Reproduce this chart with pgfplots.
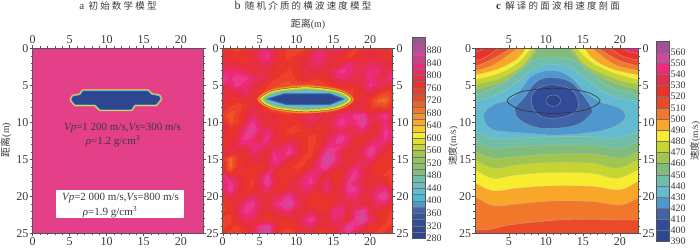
\documentclass[border=0pt]{standalone}
\usepackage{fontspec}
\setmainfont{Liberation Serif}
\newfontfamily\cjk[LetterSpace=23]{Noto Sans CJK SC}
\newfontfamily\cjkn{Noto Sans CJK SC}
\usepackage{pgfplots}
\pgfplotsset{compat=1.18}
\definecolor{ink}{HTML}{3A3A3A}
\definecolor{tk}{HTML}{555555}
\definecolor{c390}{HTML}{2E4690}\definecolor{c400}{HTML}{334C9A}\definecolor{c410}{HTML}{3F65A8}
\definecolor{c420}{HTML}{4E97CF}\definecolor{c430}{HTML}{62BBD0}\definecolor{c440}{HTML}{6FBFA8}
\definecolor{c450}{HTML}{80BC7C}\definecolor{c460}{HTML}{A0C64F}\definecolor{c470}{HTML}{C6D52F}
\definecolor{c480}{HTML}{F8EC2E}\definecolor{c490}{HTML}{F9A728}\definecolor{c500}{HTML}{F1772B}
\definecolor{c510}{HTML}{EB4A2A}\definecolor{c520}{HTML}{E9322A}\definecolor{c530}{HTML}{E52F4A}
\definecolor{c540}{HTML}{EE2A7B}\definecolor{c550}{HTML}{D0479B}\definecolor{c560}{HTML}{A54F99}
\definecolor{mag}{HTML}{E4408A}
\pgfplotsset{
  fr/.style={scale only axis, axis on top, y dir=reverse, ymin=0, ymax=25,
    xtick={0,5,...,20}, ytick={0,5,...,25}, minor tick num=4, tick pos=both,
    tick align=outside, major tick length=3pt, minor tick length=2pt,
    tick style={draw=tk, line width=.4pt}, axis line style={draw=tk, line width=.5pt},
    /pgf/number format/assume math mode=true,
    tick label style={font=\fontsize{12}{12}\selectfont, text=ink, inner sep=1pt},
    anchor=south west},
  low/.style={xticklabel pos=lower},
  cbar/.style={scale only axis, anchor=south west, xmin=0, xmax=1, xtick=\empty,
    tick style={draw=none}, ytick pos=right, yticklabel pos=right,
    axis line style={draw=tk, line width=.5pt}, axis on top,
    /pgf/number format/assume math mode=true,
    tick label style={font=\fontsize{10}{10}\selectfont, text=ink, inner sep=1pt}},
}
\newcommand\cb[3]{\addplot[fill=#3, draw=black!55, line width=.25pt] coordinates {(0,#1)(1,#1)(1,#2)(0,#2)} -- cycle;}
\newcommand\lowband[2]{\addplot[fill=#1, draw=black!25, line width=.2pt, smooth, tension=.6] coordinates {#2} -- (axis cs:25,32) -- (axis cs:-2,32) -- cycle;}
\newcommand\blob[2]{\addplot[fill=#1, draw=black!30, line width=.2pt, smooth cycle, tension=.7] coordinates {#2};}
\begin{document}
\begin{tikzpicture}
\path[use as bounding box] (0pt,0pt) rectangle (700pt,249pt);
\begin{scope}[x=1pt,y=1pt]
\node[font=\fontsize{9.5}{10}\selectfont\cjk, text=ink] at (118,243) {{\fontsize{11}{11}\rmfamily a} 初始数学模型};
\node[font=\fontsize{9.5}{10}\selectfont\cjk, text=ink] at (303,243) {{\fontsize{12}{12}\rmfamily b} 随机介质的横波速度模型};
\node[font=\fontsize{9.5}{10}\selectfont\cjk, text=ink] at (558,243) {{\fontsize{11}{11}\rmfamily\bfseries c} 解译的面波相速度剖面};
\node[font=\fontsize{10}{10}\selectfont, text=ink, rotate=90] at (6,109) {{\cjkn 距离}(m)};
\node[font=\fontsize{10}{10}\selectfont, text=ink] at (308,225) {{\cjkn 距离}(m)};
\node[font=\fontsize{9.5}{10}\selectfont, text=ink, rotate=90] at (453,103) {{\cjkn 速度}(m/s)};
\node[font=\fontsize{9.5}{10}\selectfont, text=ink, rotate=90] at (695,108) {{\cjkn 速度}(m/s)};
\end{scope}
% ---------- panel a
\begin{axis}[fr, low, at={(32.5pt,15.7pt)}, width=170.5pt, height=185pt, xmin=0, xmax=23, yticklabel pos=left]
\addplot[fill=mag, draw=none] coordinates {(0,0)(23,0)(23,25)(0,25)} -- cycle;
\addplot[fill=c490, draw=c490, line width=2.6pt, line join=round] coordinates {(6.77,5.72)(15.6,5.72)(16.05,6.2)(17.1,6.4)(17.35,6.85)(16.7,7.66)(13.8,7.66)(13.36,8.33)(9.1,8.33)(8.43,7.66)(5.74,7.66)(5.16,6.98)(5.43,6.44)(6.41,6.26)} -- cycle;
\addplot[fill=c480, draw=c480, line width=1.8pt, line join=round] coordinates {(6.77,5.72)(15.6,5.72)(16.05,6.2)(17.1,6.4)(17.35,6.85)(16.7,7.66)(13.8,7.66)(13.36,8.33)(9.1,8.33)(8.43,7.66)(5.74,7.66)(5.16,6.98)(5.43,6.44)(6.41,6.26)} -- cycle;
\addplot[fill=c390, draw=c430, line width=.8pt, line join=round] coordinates {(6.77,5.72)(15.6,5.72)(16.05,6.2)(17.1,6.4)(17.35,6.85)(16.7,7.66)(13.8,7.66)(13.36,8.33)(9.1,8.33)(8.43,7.66)(5.74,7.66)(5.16,6.98)(5.43,6.44)(6.41,6.26)} -- cycle;
\end{axis}
\begin{axis}[fr, at={(32.5pt,15.7pt)}, width=170.5pt, height=185pt, xmin=0, xmax=23, xticklabel pos=upper, yticklabels={}]
\end{axis}
\begin{scope}[x=1pt,y=1pt]
\fill[white] (56,31) rectangle (184,59);
\node[font=\fontsize{11}{12}\selectfont, text=ink] at (122.5,121) {\textit{Vp}=1 200 m/s,\textit{Vs}=300 m/s};
\node[font=\fontsize{11}{12}\selectfont, text=ink] at (113,108) {\textit{ρ}=1.2 g/cm\textsuperscript{3}};
\node[font=\fontsize{11}{12}\selectfont, text=ink] at (120.5,50.5) {\textit{Vp}=2 000 m/s,\textit{Vs}=800 m/s};
\node[font=\fontsize{11}{12}\selectfont, text=ink] at (110,36.5) {\textit{ρ}=1.9 g/cm\textsuperscript{3}};
\end{scope}
% ---------- panel b
\begin{axis}[fr, low, at={(222.7pt,15.7pt)}, width=169.6pt, height=185pt, xmin=0, xmax=23, yticklabel pos=left,
  colormap={bmap}{rgb255=(46,70,144) rgb255=(49,73,143) rgb255=(53,77,150) rgb255=(58,85,160) rgb255=(63,98,170) rgb255=(72,120,188) rgb255=(79,180,228) rgb255=(92,187,208) rgb255=(108,192,184) rgb255=(111,191,160) rgb255=(124,188,136) rgb255=(140,192,110) rgb255=(140,192,99) rgb255=(168,200,74) rgb255=(196,212,51) rgb255=(220,221,42) rgb255=(255,232,42) rgb255=(255,213,42) rgb255=(253,180,40) rgb255=(249,157,40) rgb255=(244,124,42) rgb255=(242,105,43) rgb255=(238,82,43) rgb255=(238,65,43) rgb255=(233,51,43) rgb255=(231,46,60) rgb255=(230,45,82) rgb255=(238,42,120) rgb255=(232,59,140) rgb255=(207,72,153) rgb255=(185,80,155) rgb255=(165,79,153) rgb255=(165,79,153)},
  colormap access=piecewise constant, point meta min=280, point meta max=920]
\addplot[surf, shader=interp, mesh/cols=24, point meta=explicit] table[row sep=\\, header=false, x expr={mod(\coordindex,24)}, y expr={floor(\coordindex/24)}, meta index=0] {
760\\750\\740\\750\\770\\790\\810\\770\\750\\740\\730\\740\\760\\790\\780\\790\\810\\760\\740\\750\\770\\760\\750\\740\\
770\\760\\750\\760\\780\\810\\830\\780\\750\\740\\750\\770\\800\\820\\790\\770\\760\\740\\750\\770\\780\\770\\760\\750\\
780\\780\\770\\760\\770\\790\\800\\770\\750\\750\\760\\770\\790\\810\\780\\770\\780\\810\\790\\780\\800\\790\\780\\770\\
800\\810\\810\\790\\770\\780\\780\\760\\750\\740\\760\\790\\770\\780\\770\\800\\830\\820\\800\\790\\820\\810\\780\\810\\
830\\820\\840\\830\\810\\800\\770\\750\\740\\730\\750\\770\\760\\750\\760\\790\\810\\800\\780\\800\\810\\790\\800\\830\\
820\\810\\830\\810\\790\\770\\750\\730\\720\\720\\720\\720\\720\\730\\740\\750\\760\\770\\760\\790\\830\\800\\780\\770\\
770\\760\\780\\810\\770\\750\\720\\700\\680\\680\\680\\680\\680\\680\\700\\720\\720\\730\\750\\760\\780\\750\\730\\750\\
800\\760\\750\\760\\770\\760\\730\\700\\680\\680\\680\\680\\680\\680\\680\\700\\710\\740\\750\\790\\750\\700\\690\\740\\
770\\740\\730\\760\\790\\770\\750\\720\\700\\680\\680\\680\\680\\680\\700\\710\\750\\770\\780\\760\\750\\750\\740\\760\\
740\\710\\740\\770\\800\\780\\770\\770\\760\\750\\770\\790\\810\\790\\770\\790\\810\\810\\830\\840\\780\\810\\840\\780\\
760\\720\\740\\790\\830\\790\\760\\770\\760\\760\\750\\780\\800\\770\\770\\800\\840\\810\\820\\860\\790\\780\\820\\770\\
780\\760\\770\\820\\850\\800\\810\\770\\750\\740\\740\\750\\760\\750\\760\\780\\800\\780\\790\\810\\770\\780\\830\\810\\
770\\760\\780\\840\\820\\780\\830\\780\\760\\750\\760\\750\\740\\750\\780\\810\\840\\810\\770\\760\\770\\790\\830\\800\\
750\\770\\790\\800\\810\\820\\790\\780\\790\\820\\780\\750\\740\\760\\800\\820\\820\\790\\760\\780\\820\\810\\790\\770\\
760\\790\\770\\760\\810\\790\\770\\820\\800\\840\\800\\750\\740\\780\\840\\830\\780\\770\\780\\810\\850\\800\\770\\750\\
740\\690\\750\\760\\780\\770\\780\\830\\810\\770\\760\\740\\750\\810\\860\\840\\790\\760\\770\\790\\810\\770\\750\\750\\
760\\700\\760\\770\\760\\750\\770\\800\\770\\750\\740\\750\\770\\820\\840\\800\\770\\780\\820\\780\\770\\750\\760\\740\\
790\\760\\760\\750\\750\\780\\830\\770\\750\\760\\760\\800\\820\\790\\770\\760\\760\\810\\840\\790\\770\\760\\740\\730\\
820\\830\\800\\760\\740\\800\\850\\790\\750\\770\\790\\820\\830\\780\\810\\760\\770\\830\\810\\780\\760\\780\\770\\720\\
800\\840\\790\\750\\750\\770\\810\\770\\760\\780\\770\\810\\790\\770\\820\\770\\780\\840\\830\\790\\780\\810\\820\\760\\
770\\790\\770\\780\\800\\770\\770\\790\\810\\830\\790\\770\\760\\750\\770\\760\\770\\810\\810\\780\\790\\830\\850\\780\\
750\\760\\780\\820\\840\\790\\770\\810\\840\\860\\810\\770\\750\\760\\750\\770\\800\\780\\790\\770\\770\\800\\800\\760\\
740\\750\\790\\830\\820\\780\\760\\780\\800\\810\\770\\770\\790\\760\\770\\820\\820\\770\\820\\850\\780\\760\\750\\740\\
750\\740\\770\\800\\790\\770\\750\\750\\760\\760\\770\\810\\840\\790\\760\\810\\790\\770\\830\\860\\800\\770\\750\\730\\
740\\750\\740\\770\\780\\830\\850\\790\\750\\750\\760\\790\\800\\770\\770\\780\\800\\840\\820\\790\\760\\750\\740\\750\\
750\\740\\730\\750\\790\\840\\860\\780\\740\\730\\750\\770\\760\\750\\750\\770\\810\\830\\790\\770\\750\\740\\750\\760\\
};
\addplot[fill=c490!70!c510, draw=none, smooth cycle] coordinates {(4.7,6.9)(6.7,5.55)(11.26,5.0)(15.82,5.55)(17.8,6.9)(15.82,8.25)(11.26,8.8)(6.7,8.25)};
\addplot[fill=c480, draw=black!70, line width=.35pt, smooth cycle] coordinates {(5.02,6.9)(6.89,5.71)(11.26,5.22)(15.63,5.71)(17.5,6.9)(15.63,8.09)(11.26,8.58)(6.89,8.09)};
\addplot[fill=c470, draw=none, smooth cycle] coordinates {(5.3,6.9)(7.1,5.82)(11.26,5.38)(15.42,5.82)(17.22,6.9)(15.42,7.98)(11.26,8.42)(7.1,7.98)};
\addplot[fill=c450, draw=none, smooth cycle] coordinates {(5.5,6.9)(7.26,5.92)(11.26,5.52)(15.26,5.92)(17.02,6.9)(15.26,7.88)(11.26,8.28)(7.26,7.88)};
\addplot[fill=c440, draw=none, smooth cycle] coordinates {(5.7,6.9)(7.38,6.02)(11.26,5.66)(15.14,6.02)(16.82,6.9)(15.14,7.78)(11.26,8.14)(7.38,7.78)};
\addplot[fill=c430, draw=none, smooth cycle] coordinates {(5.9,6.9)(7.5,6.12)(11.26,5.8)(15.02,6.12)(16.62,6.9)(15.02,7.68)(11.26,8.0)(7.5,7.68)};
\addplot[fill=c390, draw=c410, line width=1.1pt, line join=round] coordinates {(6.1,6.85)(8.4,6.15)(14.5,6.15)(16.4,6.85)(14.5,7.6)(8.65,7.6)} -- cycle;
\end{axis}
\begin{axis}[fr, at={(222.7pt,15.7pt)}, width=169.6pt, height=185pt, xmin=0, xmax=23, xticklabel pos=upper, yticklabel pos=right]
\end{axis}
\begin{axis}[cbar, at={(412pt,10.7pt)}, width=13.3pt, height=200.6pt, ymin=280, ymax=920, ytick={280,320,...,880}]
\cb{280}{300}{c390}\cb{300}{320}{c390!90!c400}\cb{320}{340}{c400}\cb{340}{360}{c400!60!c410}\cb{360}{380}{c410}\cb{380}{400}{c420}
\cb{400}{420}{c420!50!c430!80!cyan}\cb{420}{440}{c430}\cb{440}{460}{c430!40!c440}\cb{460}{480}{c440}\cb{480}{500}{c450}\cb{500}{520}{c450!60!c460}
\cb{520}{540}{c450!40!c460}\cb{540}{560}{c460}\cb{560}{580}{c470}\cb{580}{600}{c470!50!c480}\cb{600}{620}{c480}\cb{620}{640}{c480!50!c490}
\cb{640}{660}{c490}\cb{660}{680}{c490!60!c500}\cb{680}{700}{c500}\cb{700}{720}{c500!50!c510}\cb{720}{740}{c510}\cb{740}{760}{c510!50!c520}
\cb{760}{780}{c520}\cb{780}{800}{c530}\cb{800}{820}{c530!60!c540}\cb{820}{840}{c540}\cb{840}{860}{c540!50!c550}\cb{860}{880}{c550}\cb{880}{900}{c550!50!c560}\cb{900}{920}{c560}
\end{axis}
% ---------- panel c
\begin{axis}[fr, low, at={(475.3pt,15.7pt)}, width=163pt, height=185pt, xmin=0.45, xmax=22.5, xtick={5,10,15,20}, yticklabel pos=left]
\addplot[fill=c530, draw=none] coordinates {(0,0)(23,0)(23,25)(0,25)} -- cycle;
\addplot[fill=c540, draw=none] coordinates {(20.5,-1)(23,-1)(23,.6)(21,.4)} -- cycle;
\lowband{c520}{(-1,.7)(.45,.5)(1.5,.1)(2.5,-1)(10,-2)(19.5,-1)(20.8,.3)(22.5,.7)(24,.9)}
\lowband{c510}{(-1,2)(.45,1.7)(2,1.1)(3.56,0)(5,-1)(10,-2)(17,-1)(18.65,0)(20.5,1.1)(22.5,1.6)(24,1.9)}
\lowband{c500}{(-1,2.7)(.45,2.4)(2.5,1.6)(5.3,0)(7,-1)(11,-2)(15.5,-1)(17.07,0)(19.8,1.6)(22.5,2.4)(24,2.7)}
\lowband{c490}{(-1,3.3)(.45,3.06)(3,2.2)(6.2,0)(8,-1)(11,-2)(14.5,-1)(16.2,0)(19.3,2.2)(22.5,3)(24,3.3)}
\lowband{c480}{(-1,3.9)(.45,3.6)(3.5,2.8)(6,1.5)(7.3,0)(8.5,-1)(11,-2)(14,-1)(15.2,0)(16.5,1.5)(19,2.8)(22.5,3.6)(24,3.9)}
\lowband{c470}{(-1,4.6)(.45,4.28)(4,3.3)(6.5,1.8)(8,0)(9,-1)(11,-2)(13.3,-1)(14.14,0)(16,1.8)(19,3.3)(22.5,4.3)(24,4.6)}
\lowband{c460}{(-1,5.2)(.45,4.95)(4,4)(7,2.2)(8.5,0)(9.3,-1)(11,-2)(12.8,-1)(13.6,0)(15.3,2.2)(19,4)(22.5,4.95)(24,5.2)}
\lowband{c450}{(-1,5.9)(.45,5.6)(4,4.6)(7,2.7)(8.85,0)(9.6,-1)(11,-2)(12.5,-1)(13.2,0)(15.5,2.7)(19,4.6)(22.5,5.6)(24,5.9)}
\lowband{c440}{(-1,6.6)(.45,6.31)(3.78,4.97)(6.26,3.15)(8.29,1.58)(10.99,1.22)(13.69,1.58)(15.72,3.15)(18.65,5.18)(22.48,6.31)(24,6.6)}
\lowband{c430}{(-1,7.5)(.45,7.21)(3.78,6.08)(6.49,4.28)(8.51,2.7)(10.99,2.16)(13.47,2.7)(15.5,4.28)(18.65,6.31)(22.48,7.21)(24,7.5)}
\lowband{c440}{(-1,10.9)(.45,11.26)(2.88,12.16)(6.04,12.16)(10.54,11.94)(15.95,11.94)(19.55,12.16)(22.48,11.26)(24,10.9)}
\lowband{c450}{(-1,12.2)(.45,12.61)(2.88,13.51)(6.04,13.29)(10.54,13.06)(16.4,13.15)(20,13.51)(22.48,12.61)(24,12.2)}
\lowband{c460}{(-1,13.5)(.45,13.96)(2.88,14.86)(6.04,14.64)(10.99,14.28)(16.4,14.28)(20,14.86)(22.48,13.96)(24,13.5)}
\lowband{c470}{(-1,14.6)(.45,15.09)(2.88,16.22)(6.04,15.77)(10.99,15.41)(16.4,15.54)(19.55,16.22)(22.48,15.09)(24,14.6)}
\lowband{c480}{(-1,16)(.45,16.44)(2.88,17.57)(6.04,17.1)(10.99,16.76)(16.4,16.9)(19.55,17.57)(22.48,16.44)(24,16)}
\lowband{c490}{(-1,17.8)(.45,18.24)(2.88,19.28)(6.04,18.92)(10.99,18.6)(16.4,18.69)(20,19.14)(22.48,18.02)(24,17.6)}
\lowband{c500}{(-1,19.6)(.45,20.05)(2.88,21.26)(6.04,21.04)(10.99,20.63)(16.4,20.72)(20,21.17)(22.48,20.27)(24,19.8)}
\lowband{c510}{(-1,24.6)(.45,24.55)(2.43,24.46)(5.14,23.87)(10.54,23.29)(15.05,23.1)(19.55,23.2)(22.48,23.2)(24,23.2)}
\blob{c420}{(1.62,9.01)(2.43,10.81)(4.68,11.26)(7.84,11.49)(10.99,11.71)(15.05,11.49)(18.65,10.81)(20.68,9.46)(20,8.11)(17.3,7.21)(15.05,5.63)(13.24,3.83)(10.99,3.02)(8.29,3.6)(6.71,5.41)(5.14,6.89)(2.88,7.66)}
\blob{c410}{(5.81,8.33)(6.26,9.46)(8.29,10.59)(10.99,10.81)(14.14,10.36)(15.95,9.01)(16.17,8.11)(14.82,6.08)(13.24,4.5)(10.77,3.96)(8.74,4.5)(7.16,6.53)(5.95,7.88)}
\blob{c400}{(8.06,6.76)(8.74,8.78)(10.99,9.46)(13.69,8.78)(14.37,7.43)(13.47,5.63)(10.99,4.95)(8.96,5.41)}
\blob{c390}{(9.99,7.07)(10.29,6.52)(10.99,6.3)(11.69,6.52)(11.99,7.07)(11.69,7.62)(10.99,7.84)(10.29,7.62)}
\addplot[draw=black!80, line width=.6pt, smooth cycle, fill=none] coordinates {(4.74,7.1)(6.63,5.89)(11.04,5.4)(15.45,5.89)(17.34,7.1)(15.45,8.31)(11.04,8.8)(6.63,8.31)};
\end{axis}
\begin{axis}[fr, at={(475.3pt,15.7pt)}, width=163pt, height=185pt, xmin=0.45, xmax=22.5, xtick={5,10,15,20}, xticklabel pos=upper, yticklabel pos=right]
\end{axis}
\begin{axis}[cbar, at={(656.3pt,7.3pt)}, width=13pt, height=200.9pt, ymin=390, ymax=570, ytick={390,400,...,560}]
\cb{390}{400}{c390}\cb{400}{410}{c400}\cb{410}{420}{c410}\cb{420}{430}{c420}\cb{430}{440}{c430}\cb{440}{450}{c440}
\cb{450}{460}{c450}\cb{460}{470}{c460}\cb{470}{480}{c470}\cb{480}{490}{c480}\cb{490}{500}{c490}\cb{500}{510}{c500}
\cb{510}{520}{c510}\cb{520}{530}{c520}\cb{530}{540}{c530}\cb{540}{550}{c540}\cb{550}{560}{c550}\cb{560}{570}{c560}
\end{axis}
\end{tikzpicture}
\end{document}
